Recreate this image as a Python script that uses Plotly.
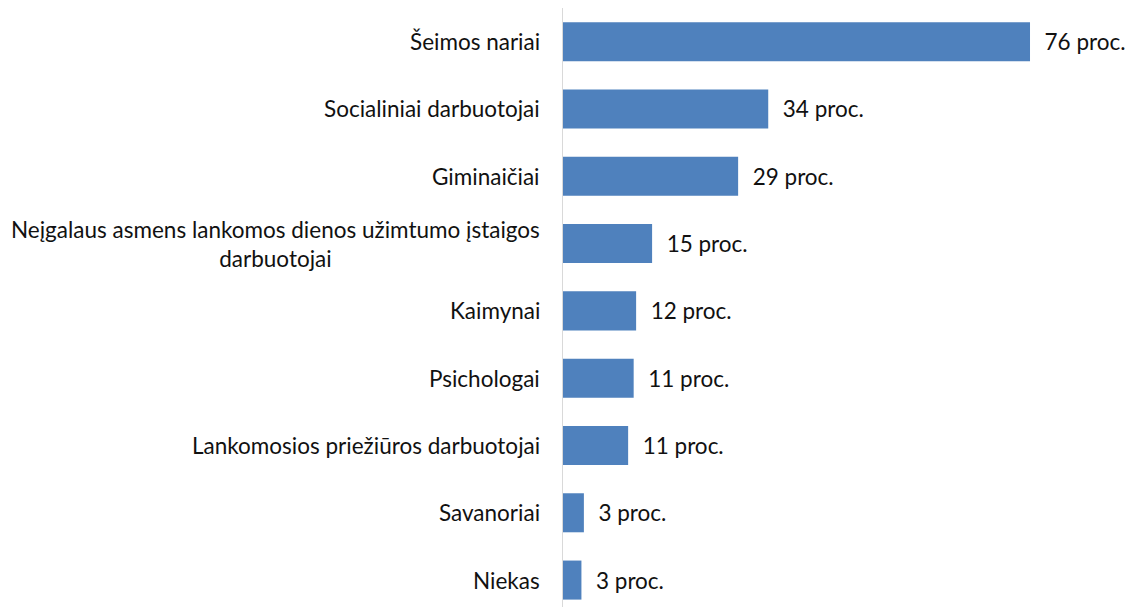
import plotly.graph_objects as go

# kategorijos (nuo viršaus žemyn)
categories = [
    "Šeimos nariai",
    "Socialiniai darbuotojai",
    "Giminaičiai",
    "Neįgalaus asmens lankomos dienos užimtumo įstaigos<br>darbuotojai",
    "Kaimynai",
    "Psichologai",
    "Lankomosios priežiūros darbuotojai",
    "Savanoriai",
    "Niekas",
]
values = [76, 33.4, 28.5, 14.5, 11.9, 11.5, 10.6, 3.4, 3.0]
value_labels = ["76 proc.", "34 proc.", "29 proc.", "15 proc.", "12 proc.",
                "11 proc.", "11 proc.", "3 proc.", "3 proc."]

FONT = "Lato, 'Open Sans', sans-serif"
FONT_SIZE = 22.5
BAR_COLOR = "#4f81bd"

fig = go.Figure()
fig.add_trace(go.Bar(
    y=categories,
    x=values,
    orientation="h",
    width=0.58,
    marker=dict(color=BAR_COLOR, line=dict(width=0)),
    text=["\u00a0\u00a0" + t for t in value_labels],
    textposition="outside",
    textfont=dict(family=FONT, size=FONT_SIZE, color="#111111"),
    constraintext="none",
    cliponaxis=False,
    hoverinfo="skip",
))

# category labels as annotations so the wrapped one can be centred
for cat in categories:
    fig.add_annotation(
        x=0, y=cat, xref="x", yref="y",
        text=cat, showarrow=False,
        xanchor="right", yanchor="middle", align="center",
        xshift=-21,
        font=dict(family=FONT, size=FONT_SIZE, color="#111111"),
    )

# page body has an 8px margin, so the figure is drawn 8px in from the corner
fig.update_layout(
    width=1125,
    height=599,
    margin=dict(l=555, r=0, t=0, b=0),
    paper_bgcolor="white",
    plot_bgcolor="white",
    showlegend=False,
    xaxis=dict(range=[0, 92.76], visible=False, fixedrange=True),
    yaxis=dict(
        categoryorder="array",
        categoryarray=categories,
        range=[8.4, -0.5],
        showticklabels=False,
        showgrid=False,
        zeroline=False,
        showline=True,
        linecolor="#d9d9d9",
        linewidth=1,
        ticks="",
    ),
)

fig.write_html("out.html")
